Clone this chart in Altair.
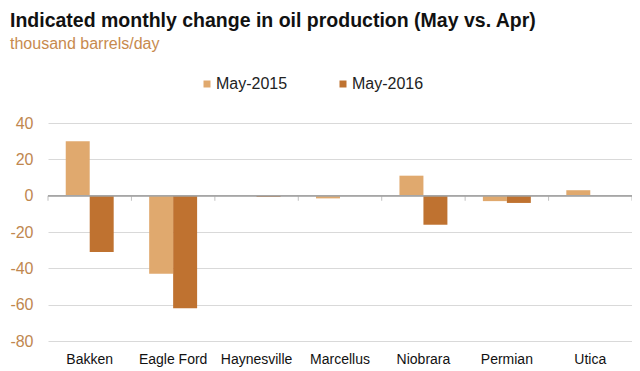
import altair as alt
import pandas as pd

regions = ["Bakken", "Eagle Ford", "Haynesville", "Marcellus", "Niobrara", "Permian", "Utica"]
may_2015 = [30, -43, 0, -1.5, 11, -3, 3]
may_2016 = [-31, -62, -0.7, 0, -16, -4, 0]
series = ["May-2015", "May-2016"]
colors = ["#E0A96E", "#BF7230"]
y_ticks = [40, 20, 0, -20, -40, -60, -80]

rows = []
for r, a, b in zip(regions, may_2015, may_2016):
    rows.append({"region": r, "series": series[0], "value": a})
    rows.append({"region": r, "series": series[1], "value": b})
df = pd.DataFrame(rows)
cats = pd.DataFrame({"region": regions})

REG = "Liberation Sans, Arial, sans-serif"

xscale = alt.Scale(domain=regions, paddingInner=0, paddingOuter=0)
yscale = alt.Scale(domain=[-80, 40], nice=False)

x_axis = alt.Axis(labelAngle=0, domain=False, ticks=False, labelFont=REG,
                  labelFontSize=14, labelColor="#111111", labelPadding=11)
y_axis = alt.Axis(values=y_ticks, domain=False, ticks=False, labelFont=REG,
                  labelFontSize=16, labelColor="#C0874F", labelPadding=15,
                  labelOverlap=False, labelFlush=False,
                  labelExpr="datum.value < 0 ? '-' + abs(datum.value) : '' + datum.value",
                  grid=True, gridColor="#D9D9D9", gridWidth=1)

bars = alt.Chart(df).mark_bar().encode(
    x=alt.X("region:N", scale=xscale, sort=regions, title=None, axis=x_axis),
    xOffset=alt.XOffset("series:N", scale=alt.Scale(domain=series, paddingInner=0, paddingOuter=0.74)),
    y=alt.Y("value:Q", scale=yscale, title=None, axis=y_axis),
    color=alt.Color("series:N", scale=alt.Scale(domain=series, range=colors), title=None,
                    legend=alt.Legend(orient="none", legendX=151, legendY=-47, direction="horizontal",
                                      symbolType="square", symbolSize=49, symbolStrokeWidth=0,
                                      labelFont=REG, labelFontSize=16, labelColor="#222222",
                                      labelOffset=1, columnPadding=47)),
)

zero = alt.Chart(cats).mark_rule(color="#A6A6A6", strokeWidth=1).encode(
    y=alt.YDatum(0, scale=yscale, title=None, axis=y_axis), x=alt.value(0), x2=alt.value(584)
)
ticks = alt.Chart(cats).mark_tick(
    color="#A6A6A6", orient="vertical", size=5, thickness=1, yOffset=2.5
).encode(
    x=alt.X("region:N", scale=xscale, sort=regions, bandPosition=0, title=None, axis=x_axis),
    y=alt.YDatum(0, scale=yscale, title=None, axis=y_axis),
)
end_tick = alt.Chart(cats.head(1)).mark_tick(
    color="#A6A6A6", orient="vertical", size=5, thickness=1, yOffset=2.5
).encode(
    x=alt.value(584),
    y=alt.YDatum(0, scale=yscale, title=None, axis=y_axis),
)

chart = alt.layer(bars, zero, ticks, end_tick).properties(
    width=584, height=218,
    padding={"left": 40, "top": 115, "right": 0, "bottom": 30},
    autosize=alt.AutoSizeParams(type="none"),
    title=alt.TitleParams(
        "Indicated monthly change in oil production (May vs. Apr)",
        subtitle="thousand barrels/day",
        anchor="start", frame="group", dx=-38, offset=23,
        font=REG, fontSize=19.5, fontWeight="bold", color="#111111",
        subtitleFont=REG, subtitleFontSize=16, subtitleColor="#C78A4E", subtitlePadding=5,
    ),
).configure_view(stroke=None)

chart.save("out.html", embed_options={"renderer": "svg", "actions": False})
